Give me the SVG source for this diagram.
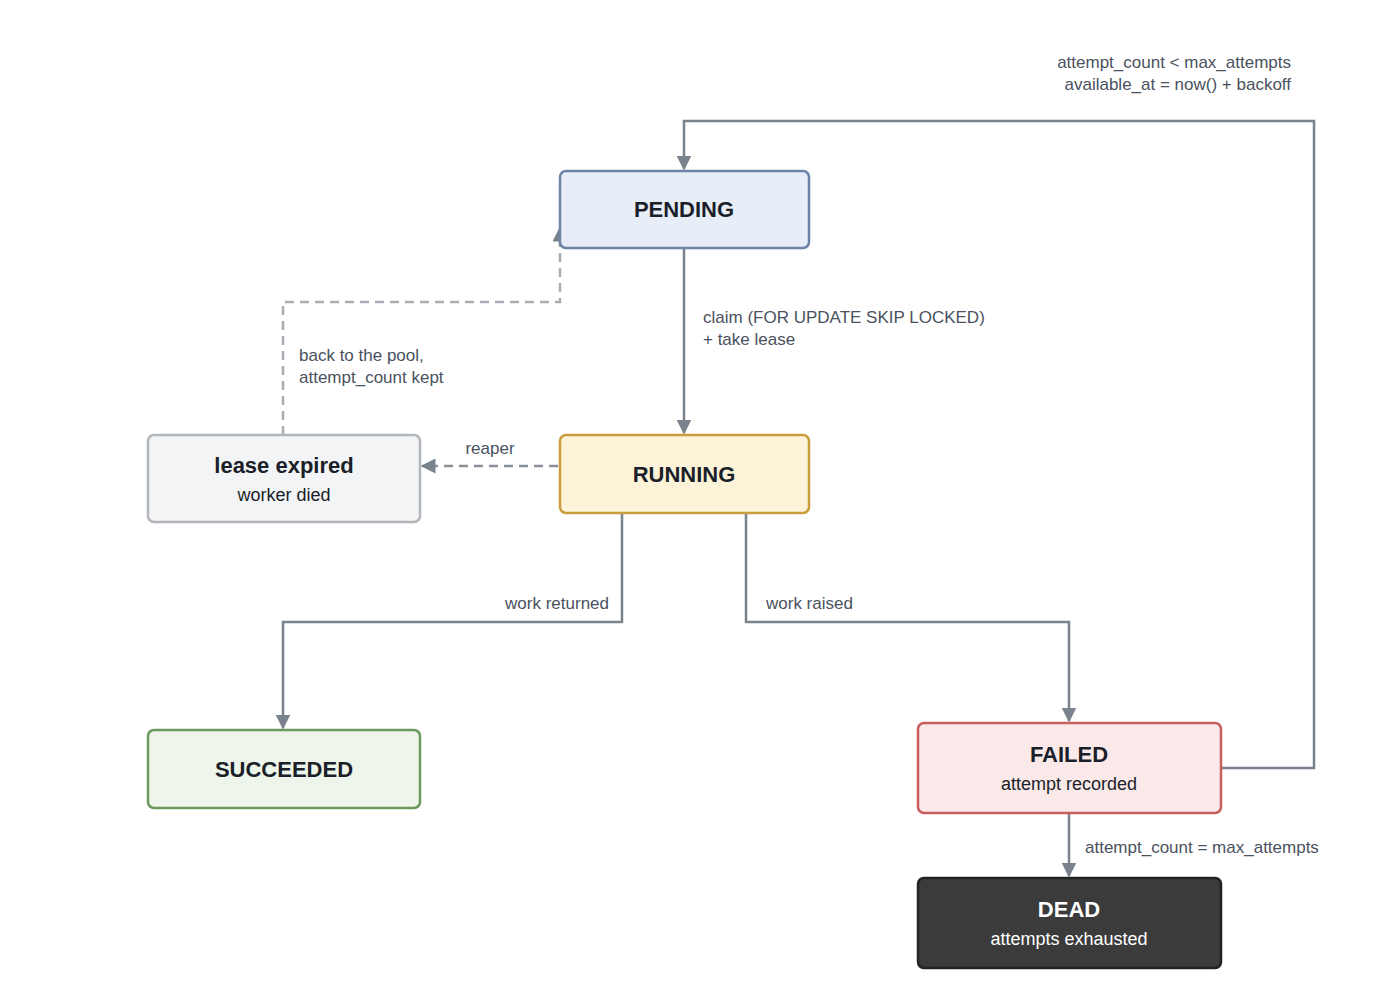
<svg xmlns="http://www.w3.org/2000/svg" width="1400" height="995" viewBox="0 0 1400 995">
<style>
text{font-family:"Liberation Sans",Arial,sans-serif}
.t{font-size:22px;font-weight:bold;fill:#1a1f29;text-anchor:middle}
.s{font-size:18px;fill:#1a1f29;text-anchor:middle}
.l{font-size:17px;fill:#4a5260}
.c{fill:none;stroke:#7a828e;stroke-width:2.5}
.d{fill:none;stroke:#a8adb3;stroke-width:2.5;stroke-dasharray:9 6}
</style>
<defs>
<marker id="a" viewBox="0 0 10 10" refX="9" refY="5" markerWidth="6" markerHeight="6" orient="auto"><path d="M0,0L10,5L0,10z" fill="#7a828e"/></marker>
</defs>
<rect width="1400" height="995" fill="#fff"/>
<g id="connectors">
<path class="c" d="M684,248V433" marker-end="url(#a)"/>
<path class="d" d="M558,466H422" marker-end="url(#a)" style="stroke:#8a9099"/>
<path class="d" d="M283,435V302H560V228" marker-end="url(#a)"/>
<path class="c" d="M622,513V622H283V728" marker-end="url(#a)"/>
<path class="c" d="M746,513V622H1069V721" marker-end="url(#a)"/>
<path class="c" d="M1221,768H1314V121H684V169" marker-end="url(#a)"/>
<path class="c" d="M1069,813V876" marker-end="url(#a)"/>
<text class="l" x="703" y="323">claim (FOR UPDATE SKIP LOCKED)</text>
<text class="l" x="703" y="345">+ take lease</text>
<text class="l" x="490" y="454" text-anchor="middle">reaper</text>
<text class="l" x="299" y="361">back to the pool,</text>
<text class="l" x="299" y="383">attempt_count kept</text>
<text class="l" x="609" y="609" text-anchor="end">work returned</text>
<text class="l" x="766" y="609">work raised</text>
<text class="l" x="1291" y="68" text-anchor="end">attempt_count &lt; max_attempts</text>
<text class="l" x="1291" y="90" text-anchor="end">available_at = now() + backoff</text>
<text class="l" x="1085" y="853">attempt_count = max_attempts</text>
</g>
<g id="pending"><rect x="560" y="171" width="249" height="77" rx="6" fill="#e8eef8" stroke="#6d83a8" stroke-width="2.5"/><text class="t" x="684" y="217">PENDING</text></g>
<g id="running"><rect x="560" y="435" width="249" height="78" rx="6" fill="#fdf3d8" stroke="#c99c3c" stroke-width="2.5"/><text class="t" x="684" y="482">RUNNING</text></g>
<g id="lease"><rect x="148" y="435" width="272" height="87" rx="6" fill="#f2f4f6" stroke="#b2b6bb" stroke-width="2.5"/><text class="t" x="284" y="473">lease expired</text><text class="s" x="284" y="501">worker died</text></g>
<g id="succeeded"><rect x="148" y="730" width="272" height="78" rx="6" fill="#eef5ea" stroke="#6c9a5c" stroke-width="2.5"/><text class="t" x="284" y="777">SUCCEEDED</text></g>
<g id="failed"><rect x="918" y="723" width="303" height="90" rx="6" fill="#fbe9e9" stroke="#c85e5e" stroke-width="2.5"/><text class="t" x="1069" y="762">FAILED</text><text class="s" x="1069" y="790">attempt recorded</text></g>
<g id="dead"><rect x="918" y="878" width="303" height="90" rx="6" fill="#3b3b3b" stroke="#222" stroke-width="2.5"/><text class="t" x="1069" y="917" style="fill:#fff">DEAD</text><text class="s" x="1069" y="945" style="fill:#fff">attempts exhausted</text></g>
</svg>
